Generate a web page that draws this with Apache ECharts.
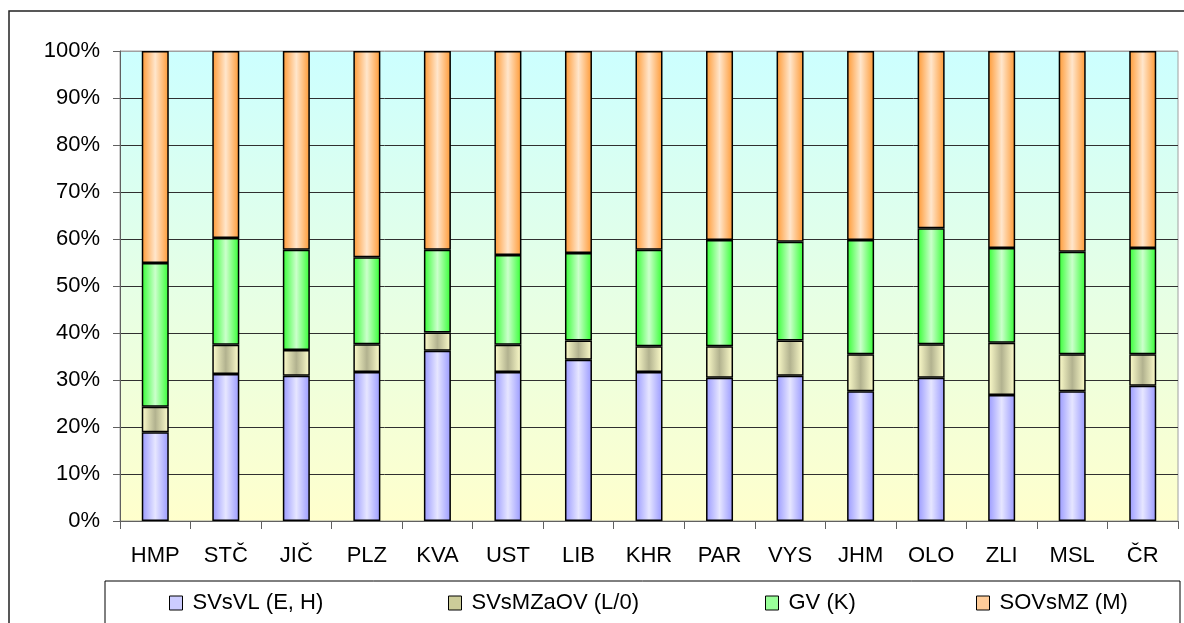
<!DOCTYPE html>
<html>
<head>
<meta charset="utf-8">
<script src="https://cdn.jsdelivr.net/npm/echarts@6/dist/echarts.min.js"></script>
<style>
html,body{margin:0;padding:0;background:#fff;}
#c{width:1184px;height:623px;}
</style>
</head>
<body>
<div id="c"></div>
<script>
const categories = ['HMP','STČ','JIČ','PLZ','KVA','UST','LIB','KHR','PAR','VYS','JHM','OLO','ZLI','MSL','ČR'];
const seriesNames = ['SVsVL (E, H)','SVsMZaOV (L/0)','GV (K)','SOVsMZ (M)'];
const svsvl   = [18.9,31.3,30.9,31.7,36.2,31.7,34.3,31.7,30.5,30.9,27.6,30.5,26.8,27.6,28.8];
const svsmzaov= [5.4,6.2,5.5,5.9,3.9,5.8,4.1,5.5,6.7,7.5,7.9,7.1,11.1,7.9,6.7];
const gv      = [30.6,22.7,21.3,18.5,17.6,19.1,18.6,20.5,22.6,21.0,24.3,24.7,20.2,21.8,22.6];
const sovsmz  = [45.1,39.8,42.3,43.9,42.3,43.4,43.0,42.3,40.2,40.6,40.2,37.7,41.9,42.7,41.9];
const yTicks = [0,10,20,30,40,50,60,70,80,90,100];

const FONT = '"Liberation Sans", Arial, sans-serif';

function grad(edge, mid, pos){
  return {type:'linear',x:0,y:0,x2:1,y2:0,colorStops:[
    {offset:0,color:edge},{offset:pos,color:mid},{offset:1,color:edge}]};
}
const barFills = [
  grad('#9999ff','#e6e6ff',0.5),
  grad('#ffffcc','#b2b28f',0.5),
  grad('#33ff33','#ccffcc',0.5),
  grad('#ff9933','#ffe6cc',0.5)
];
const iconColors = ['#ccccff','#cccc99','#99ff99','#ffcc99'];
const legendLefts = [169,448,765,976];
const values = [svsvl, svsmzaov, gv, sovsmz];

const chart = echarts.init(document.getElementById('c'));
const splitColors = yTicks.map((v,i)=> i===yTicks.length-1 ? '#a0a0a0' : '#303030');

chart.setOption({
  animation:false,
  textStyle:{fontFamily:FONT},
  grid:{left:120,right:6,top:51,height:470,show:true,borderColor:'#a0a0a0',borderWidth:1,
    backgroundColor:{type:'linear',x:0,y:0,x2:0,y2:1,colorStops:[
      {offset:0,color:'#ccffff'},{offset:1,color:'#ffffcc'}]}},
  xAxis:{type:'category',data:categories,
    axisLine:{lineStyle:{color:'#606060',width:1}},
    axisTick:{show:true,length:8,lineStyle:{color:'#606060'}},
    axisLabel:{color:'#000',fontSize:22,fontFamily:FONT,margin:24,interval:0},
    splitLine:{show:false}},
  yAxis:{type:'value',min:0,max:100,interval:10,
    axisLine:{show:true,lineStyle:{color:'#606060',width:1}},
    axisTick:{show:true,length:7,lineStyle:{color:'#606060'}},
    axisLabel:{color:'#000',fontSize:22,fontFamily:FONT,margin:20,formatter:'{value}%'},
    splitLine:{show:true,lineStyle:{color:splitColors,width:1}}},
  legend: seriesNames.map((n,i)=>({
    data:[{name:n,itemStyle:{color:iconColors[i],borderColor:'#000',borderWidth:1}}],
    left:legendLefts[i],top:592,padding:0,icon:'rect',itemWidth:13,itemHeight:14,itemGap:10,
    textStyle:{color:'#000',fontSize:22,fontFamily:FONT,padding:[0,0,0,5]},
    selectedMode:false
  })),
  graphic:[
    {type:'rect',shape:{x:9,y:11,width:1200,height:700},style:{fill:'none',stroke:'#222',lineWidth:1.5},silent:true,z:-1},
    {type:'rect',shape:{x:105,y:581,width:1075,height:80},style:{fill:'#fff',stroke:'#000',lineWidth:1},silent:true,z:-1}
  ],
  series: seriesNames.map((n,i)=>({
    name:n,type:'bar',stack:'total',barWidth:27,data:values[i],
    itemStyle:{color:barFills[i],borderColor:'#000',borderWidth:1.5},
    emphasis:{disabled:true}
  }))
});
</script>
</body>
</html>
